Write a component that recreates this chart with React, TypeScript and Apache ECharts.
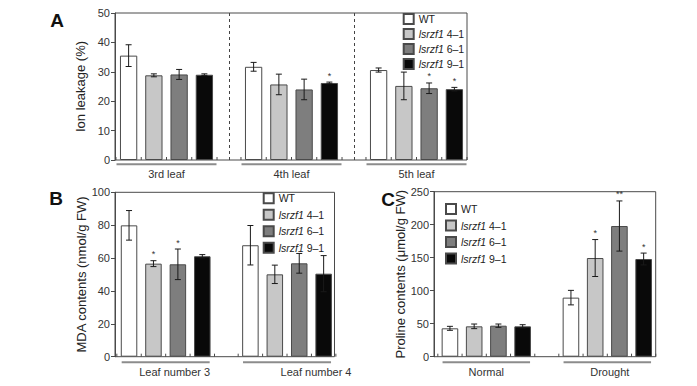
import React, { useEffect, useRef } from 'react';
import * as echarts from 'echarts';

const FONT = '"Liberation Sans", Arial, sans-serif';

const lineNames = ['WT', 'lsrzf1 4–1', 'lsrzf1 6–1', 'lsrzf1 9–1'];
const barColors = ['#ffffff', '#c7c7c7', '#7e7e7e', '#090909'];

// Panel A: ion leakage (%)
const ionCats = ['3rd leaf', '4th leaf', '5th leaf'];
const ionTicks = { min: 0, max: 50, interval: 10 };
const ionWT = [35.5, 31.7, 30.6];
const ionWTErr = [3.7, 1.5, 0.7];
const ion41 = [28.8, 25.7, 25.2];
const ion41Err = [0.5, 3.5, 4.7];
const ion61 = [29.1, 24.0, 24.4];
const ion61Err = [1.7, 3.5, 1.8];
const ion91 = [29.0, 26.2, 24.1];
const ion91Err = [0.3, 0.3, 0.6];
const ionSigWT = ['', '', ''];
const ionSig41 = ['', '', ''];
const ionSig61 = ['', '', '*'];
const ionSig91 = ['', '*', '*'];

// Panel B: MDA contents (nmol/g FW)
const mdaCats = ['Leaf number 3', 'Leaf number 4'];
const mdaTicks = { min: 0, max: 100, interval: 20 };
const mdaWT = [79.9, 67.8];
const mdaWTErr = [9.0, 12.0];
const mda41 = [56.6, 50.1];
const mda41Err = [1.8, 5.6];
const mda61 = [56.2, 56.8];
const mda61Err = [9.3, 6.0];
const mda91 = [61.1, 50.5];
const mda91Err = [1.0, 11.0];
const mdaSigWT = ['', ''];
const mdaSig41 = ['*', ''];
const mdaSig61 = ['*', ''];
const mdaSig91 = ['', ''];

// Panel C: proline contents (μmol/g FW)
const proCats = ['Normal', 'Drought'];
const proTicks = { min: 0, max: 250, interval: 50 };
const proWT = [43.0, 89.5];
const proWTErr = [3.0, 11.0];
const pro41 = [46.0, 149.5];
const pro41Err = [3.5, 28.0];
const pro61 = [47.0, 198.0];
const pro61Err = [2.5, 38.0];
const pro91 = [46.0, 148.0];
const pro91Err = [2.5, 9.0];
const proSigWT = ['', ''];
const proSig41 = ['', '*'];
const proSig61 = ['', '**'];
const proSig91 = ['', '*'];

type Panel = {
  letter: string;
  letterPos: [number, number];
  cats: string[];
  labelShift: number[];
  ticks: { min: number; max: number; interval: number };
  yName: string;
  values: number[][];
  errors: number[][];
  sigs: string[][];
  grid: { left: number; top: number; width: number; height: number };
  axisX: number;
  frameRight: number;
  barWidth: number;
  barGap: number;
  nameGap: number;
  underline: { w: number; dy: number };
  labelMargin: number;
  legend: { left: number; top: number; gap: number };
  dashed: boolean;
};

const panels: Panel[] = [
  {
    letter: 'A', letterPos: [57, 20],
    cats: ionCats, labelShift: [0, 0, 0], ticks: ionTicks, yName: 'Ion leakage (%)',
    values: [ionWT, ion41, ion61, ion91],
    errors: [ionWTErr, ion41Err, ion61Err, ion91Err],
    sigs: [ionSigWT, ionSig41, ionSig61, ionSig91],
    grid: { left: 104, top: 13, width: 375, height: 147 },
    axisX: 115, frameRight: 467, barWidth: 17.3, barGap: 0.46, nameGap: 23,
    underline: { w: 100, dy: 4.3 }, labelMargin: 8,
    legend: { left: 402.7, top: 13, gap: 3 }, dashed: true,
  },
  {
    letter: 'B', letterPos: [56, 198],
    cats: mdaCats, labelShift: [9, 29], ticks: mdaTicks, yName: 'MDA contents (nmol/g FW)',
    values: [mdaWT, mda41, mda61, mda91],
    errors: [mdaWTErr, mda41Err, mda61Err, mda91Err],
    sigs: [mdaSigWT, mdaSig41, mdaSig61, mdaSig91],
    grid: { left: 105, top: 192.3, width: 242.7, height: 164.4 },
    axisX: 115, frameRight: 334.5, barWidth: 16.5, barGap: 0.48, nameGap: 20,
    underline: { w: 88, dy: 5.6 }, labelMargin: 10,
    legend: { left: 262.7, top: 192.3, gap: 4.5 }, dashed: false,
  },
  {
    letter: 'C', letterPos: [388, 199],
    cats: proCats, labelShift: [0, 2.5], ticks: proTicks, yName: 'Proline contents (μmol/g FW)',
    values: [proWT, pro41, pro61, pro91],
    errors: [proWTErr, pro41Err, pro61Err, pro91Err],
    sigs: [proSigWT, proSig41, proSig61, proSig91],
    grid: { left: 425.8, top: 191.7, width: 242, height: 165 },
    axisX: 434, frameRight: 655.7, barWidth: 16.6, barGap: 0.46, nameGap: 22,
    underline: { w: 87.5, dy: 5.6 }, labelMargin: 10,
    legend: { left: 445, top: 203, gap: 4.5 }, dashed: false,
  },
];

const AXIS = '#4a4a4a';

function makeErrSeries(p: Panel, i: number) {
  const step = p.barWidth * (1 + p.barGap);
  const items: number[][] = [];
  p.values.forEach((vals, k) => vals.forEach((v, c) => items.push([c, k, v, p.errors[k][c]])));
  return {
    type: 'custom',
    xAxisIndex: i,
    yAxisIndex: i,
    z: 5,
    silent: true,
    encode: { x: 0, y: 2 },
    data: items,
    renderItem: (params: any, api: any) => {
      const c = api.value(0);
      const k = api.value(1);
      const v = api.value(2);
      const e = api.value(3);
      const base = api.coord([c, 0]);
      const hi = api.coord([c, v + e]);
      const lo = api.coord([c, v - e]);
      const x = base[0] + (k - 1.5) * step;
      const st = { stroke: '#1a1a1a', lineWidth: 1 };
      const tk = { stroke: AXIS, lineWidth: 1 };
      const children: any[] = [
        { type: 'line', shape: { x1: x, y1: hi[1], x2: x, y2: lo[1] }, style: st },
        { type: 'line', shape: { x1: x - 3, y1: hi[1], x2: x + 3, y2: hi[1] }, style: st },
        { type: 'line', shape: { x1: x - 3, y1: lo[1], x2: x + 3, y2: lo[1] }, style: st },
        { type: 'line', shape: { x1: x - step / 2, y1: base[1], x2: x - step / 2, y2: base[1] - 3 }, style: tk },
      ];
      if (k === 3) {
        children.push({ type: 'line', shape: { x1: x + step / 2, y1: base[1], x2: x + step / 2, y2: base[1] - 3 }, style: tk });
      }
      if (k === 0) {
        const uy = base[1] + p.underline.dy;
        children.push({
          type: 'line',
          shape: { x1: base[0] - p.underline.w / 2, y1: uy, x2: base[0] + p.underline.w / 2, y2: uy },
          style: { stroke: '#8c8c8c', lineWidth: 2 },
        });
      }
      const sig = p.sigs[k][c];
      if (sig) {
        children.push({
          type: 'text',
          x,
          y: hi[1] - 2,
          style: { text: sig, fontSize: 9, fill: '#333', align: 'center', verticalAlign: 'bottom', fontFamily: FONT },
        });
      }
      return { type: 'group', children };
    },
  };
}

export default function App() {
  const ref = useRef<HTMLDivElement>(null);
  useEffect(() => {
    if (!ref.current) return;
    const chart = echarts.init(ref.current, undefined, { renderer: 'svg' });
    const series: any[] = [];
    panels.forEach((p, i) => {
      p.values.forEach((vals, k) => {
        series.push({
          type: 'bar',
          name: lineNames[k],
          xAxisIndex: i,
          yAxisIndex: i,
          data: vals,
          barWidth: p.barWidth,
          barGap: `${p.barGap * 100}%`,
          itemStyle: { color: barColors[k], borderColor: '#4a4a4a', borderWidth: 1 },
          silent: true,
          z: 2,
        });
      });
      series.push(makeErrSeries(p, i));
    });
    const graphic: any[] = [];
    panels.forEach((p) => {
      graphic.push({
        type: 'rect',
        shape: { x: p.axisX, y: p.grid.top, width: p.frameRight - p.axisX, height: p.grid.height },
        style: { fill: 'none', stroke: AXIS, lineWidth: 1 },
        z: 1,
        silent: true,
      });
      graphic.push({
        type: 'text',
        x: p.letterPos[0],
        y: p.letterPos[1],
        style: {
          text: p.letter, fontSize: 19, fontWeight: 'bold', fill: '#111',
          align: 'center', verticalAlign: 'middle', fontFamily: FONT,
        },
      });
    });
    const option: any = {
      animation: false,
      backgroundColor: '#ffffff',
      textStyle: { fontFamily: FONT },
      grid: panels.map((p) => ({ ...p.grid, containLabel: false })),
      xAxis: panels.map((p, i) => ({
        type: 'category',
        gridIndex: i,
        data: p.cats.map((c, j) => ({ value: c, textStyle: { padding: [0, 0, 0, p.labelShift[j] * 2] } })),
        axisLine: { show: false },
        axisTick: { show: false },
        axisLabel: { fontSize: 11, color: '#333', margin: p.labelMargin, fontFamily: FONT },
        splitLine: {
          show: p.dashed,
          showMinLine: false,
          showMaxLine: false,
          lineStyle: { color: '#444', width: 1, type: [3, 3] },
        },
      })),
      yAxis: panels.map((p, i) => ({
        type: 'value',
        gridIndex: i,
        min: p.ticks.min,
        max: p.ticks.max,
        interval: p.ticks.interval,
        offset: -(p.axisX - p.grid.left),
        axisLine: { show: true, lineStyle: { color: AXIS, width: 1 } },
        axisTick: { show: true, length: 4, lineStyle: { color: AXIS } },
        axisLabel: { fontSize: 11, color: '#333', margin: 5, fontFamily: FONT },
        splitLine: { show: false },
        name: p.yName,
        nameLocation: 'middle',
        nameGap: p.nameGap,
        nameTextStyle: { fontSize: 13, color: '#222', fontFamily: FONT },
      })),
      legend: panels.map((p) => ({
        data: lineNames,
        orient: 'vertical',
        left: p.legend.left,
        top: p.legend.top,
        itemGap: p.legend.gap,
        itemWidth: 10,
        itemHeight: 10,
        icon: 'rect',
        selectedMode: false,
        padding: 0,
        formatter: (name: string) => (name.startsWith('lsrzf1') ? '{i|lsrzf1}' + name.slice(6) : name),
        textStyle: {
          fontSize: 10.5, color: '#222', lineHeight: 12, fontFamily: FONT,
          rich: { i: { fontStyle: 'italic', fontSize: 10.5, lineHeight: 12, color: '#222', fontFamily: FONT } },
        },
      })),
      series,
      graphic,
    };
    chart.setOption(option);
    return () => chart.dispose();
  }, []);
  return (
    <div
      ref={ref}
      style={{ position: 'fixed', left: 0, top: 0, width: 697, height: 386, background: '#fff' }}
    />
  );
}
